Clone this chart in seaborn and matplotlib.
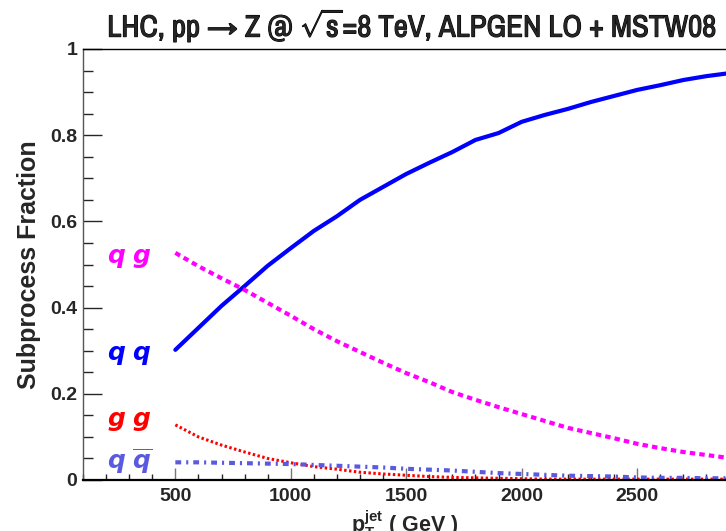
import numpy as np
import pandas as pd
import matplotlib
matplotlib.use("Agg")
import matplotlib.pyplot as plt
import matplotlib.patheffects as pe
import seaborn as sns
from matplotlib import font_manager as fm
from matplotlib.ticker import MultipleLocator, FuncFormatter

# ---- data ----
pt = [500, 600, 700, 800, 900, 1000, 1100, 1200, 1300, 1400, 1500, 1600, 1700,
      1800, 1900, 2000, 2100, 2200, 2300, 2400, 2500, 2600, 2700, 2800, 2900, 3000]
frac_qq = [0.302, 0.353, 0.404, 0.450, 0.497, 0.538, 0.578, 0.612, 0.650, 0.680,
           0.710, 0.736, 0.761, 0.789, 0.805, 0.831, 0.847, 0.861, 0.877, 0.891,
           0.905, 0.916, 0.928, 0.937, 0.944, 0.950]
frac_qg = [0.527, 0.496, 0.468, 0.441, 0.411, 0.381, 0.350, 0.322, 0.297, 0.272,
           0.248, 0.227, 0.204, 0.186, 0.169, 0.153, 0.137, 0.121, 0.109, 0.097,
           0.084, 0.074, 0.065, 0.058, 0.051, 0.045]
frac_gg = [0.128, 0.100, 0.081, 0.065, 0.050, 0.040, 0.031, 0.025, 0.018, 0.014,
           0.011, 0.008, 0.006, 0.005, 0.004, 0.003, 0.002, 0.002, 0.002, 0.002,
           0.002, 0.002, 0.002, 0.002, 0.002, 0.002]
frac_qqbar = [0.041, 0.041, 0.040, 0.039, 0.038, 0.037, 0.035, 0.033, 0.031, 0.029,
              0.026, 0.024, 0.022, 0.019, 0.016, 0.014, 0.012, 0.010, 0.009, 0.008,
              0.006, 0.005, 0.005, 0.004, 0.004, 0.003]
series_labels = [r"$q\;g$", r"$q\;q$", r"$g\;g$", r"$q\;\overline{q}$"]
series_label_y = [0.515, 0.29, 0.138, 0.045]
title = "LHC, pp \u2192 Z @ $\\sqrt{\\mathrm{s}}$=8 TeV, ALPGEN LO + MSTW08"

sns.set_style("ticks")
plt.rcParams["font.family"] = ["Liberation Sans", "DejaVu Sans"]

# pick a narrow / condensed font for the title if one is installed
names = sorted({f.name for f in fm.fontManager.ttflist})
narrow = next((n for n in names if "Narrow" in n), None)
stretch = "normal"
if narrow is None:
    narrow = next((n for n in names if "Condensed" in n), None)
if narrow is None:
    cond = [f.name for f in fm.fontManager.ttflist
            if str(f.stretch) in ("condensed", "semi-condensed", "500", "300")]
    if cond:
        narrow = cond[0]
        stretch = "condensed"
if narrow is None:
    narrow = "Liberation Sans"

plt.rcParams["mathtext.fontset"] = "custom"
plt.rcParams["mathtext.rm"] = f"{narrow}:bold"
plt.rcParams["mathtext.bf"] = "Liberation Sans:bold"
plt.rcParams["mathtext.it"] = "DejaVu Sans:italic:bold"

fig = plt.figure(figsize=(7.26, 5.31), dpi=100)
W, H = 726, 531
x0, x1 = 83, 752.5
y0, y1 = 480, 49
ax = fig.add_axes([x0 / W, (H - y0) / H, (x1 - x0) / W, (y0 - y1) / H])

sns.lineplot(x=pt, y=frac_qq, ax=ax, color="#0000ff", linewidth=3.0,
             linestyle="-")
sns.lineplot(x=pt, y=frac_qg, ax=ax, color="#ff00ff", linewidth=3.0,
             linestyle=(0, (1.3, 1.0)))
sns.lineplot(x=pt, y=frac_gg, ax=ax, color="#ff0000", linewidth=2.2,
             linestyle=(0, (0.8, 0.8)))
sns.lineplot(x=pt, y=frac_qqbar, ax=ax, color="#5a5ae0", linewidth=3.0,
             linestyle=(0, (1.4, 1.2, 0.5, 1.2)))

ax.set_xlim(100, 3000)
ax.set_ylim(0, 1)

colors = ["#ff00ff", "#0000ff", "#ff0000", "#5a5ae0"]
for lab, yy, c in zip(series_labels, series_label_y, colors):
    ax.text(300, yy, lab, color=c, fontsize=18, ha="center", va="center")

ax.xaxis.set_major_locator(MultipleLocator(500))
ax.xaxis.set_minor_locator(MultipleLocator(100))
ax.yaxis.set_major_locator(MultipleLocator(0.2))
ax.yaxis.set_minor_locator(MultipleLocator(0.05))

def yfmt(v, pos):
    if abs(v) < 1e-9:
        return "0"
    if abs(v - 1) < 1e-9:
        return "1"
    return f"{v:.1f}"

ax.yaxis.set_major_formatter(FuncFormatter(yfmt))
ax.tick_params(axis="both", which="both", direction="in", labelsize=14,
               top=False, right=False, width=1.0)
ax.tick_params(axis="x", which="major", length=8.5, color="#777777")
ax.tick_params(axis="x", which="minor", length=4.5)
ax.tick_params(axis="y", which="major", length=13.5)
ax.tick_params(axis="y", which="minor", length=7)
for lbl in ax.get_xticklabels() + ax.get_yticklabels():
    lbl.set_fontweight("bold")
ax.tick_params(axis="x", pad=6)
ax.tick_params(axis="y", pad=4)

for s in ["top", "bottom", "left", "right"]:
    ax.spines[s].set_color("black")
ax.spines["left"].set_color("#555555")
ax.spines["bottom"].set_linewidth(1.6)
ax.spines["top"].set_linewidth(1.0)
ax.spines["left"].set_linewidth(1.0)

ax.set_ylabel("Subprocess Fraction", fontsize=18, fontweight="bold", labelpad=7)
ax.set_xlabel(r"$\mathbf{p}_{\mathbf{T}}^{\mathbf{jet}}$ ( GeV )", fontsize=15.5,
              fontweight="bold")
ax.xaxis.set_label_coords((405 - x0) / (x1 - x0), -0.065)

# title, sized to span the same width as the reference (x = 105 .. 718 px)
ttl = fig.text(411.5 / W, 1 - 25 / H, title, fontsize=20, fontweight="bold",
               family=[narrow, "DejaVu Sans"], fontstretch=stretch,
               ha="center", va="center")
fig.canvas.draw()
w = ttl.get_window_extent(renderer=fig.canvas.get_renderer()).width
ttl.set_fontsize(min(24, 20 * 610.0 / w))
ttl.set_path_effects([pe.withStroke(linewidth=0.8, foreground="black")])

fig.savefig("out.png", dpi=100)
